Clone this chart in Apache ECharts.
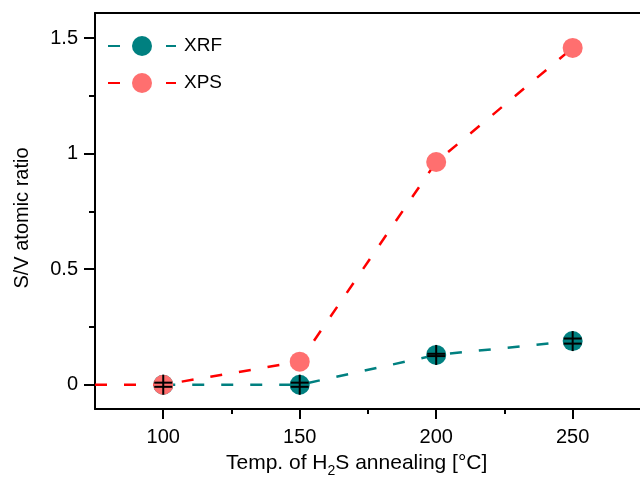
<!DOCTYPE html>
<html><head><meta charset="utf-8">
<script src="https://cdn.jsdelivr.net/npm/echarts@6/dist/echarts.min.js"></script>
<style>html,body{margin:0;padding:0;background:#fff}#c{width:640px;height:477px}</style>
</head><body><div id="c"></div>
<script>
// ---- data ----
const temps = [100, 150, 200, 250];
const xrf = [0, 0, 0.129, 0.189];
const xrfErr = [0.009, 0.009, 0.005, 0.011];
const xpsTemps = [75, 100, 150, 200, 250];
const xps = [0, 0, 0.100, 0.964, 1.458];
const xTickLabels = [100, 150, 200, 250];
const xMinorTicks = [125, 175, 225];
const yTickLabels = [0, 0.5, 1, 1.5];
const yMinorTicks = [0.25, 0.75, 1.25];

const FONT = 'Liberation Sans, Arial, Helvetica, sans-serif';
const TEAL = '#008080';
const SALMON = '#FF6F6F';
const RED = '#FF0000';
const X_MIN = 75, X_MAX = 276.5, Y_MIN = -0.105, Y_MAX = 1.609;

const chart = echarts.init(document.getElementById('c'), null, {renderer: 'canvas'});

const tickStyle = {color: '#000', width: 2};
const baseX = {type: 'value', min: X_MIN, max: X_MAX, gridIndex: 0, splitLine: {show: false}};
const baseY = {type: 'value', min: Y_MIN, max: Y_MAX, gridIndex: 0, splitLine: {show: false}};

const option = {
  animation: false,
  backgroundColor: '#fff',
  grid: {left: 95, top: 13, width: 550, height: 396, containLabel: false, outerBoundsMode: 'none'},
  legend: {
    data: ['XRF', 'XPS'],
    orient: 'vertical',
    left: 102, top: 31,
    itemWidth: 68, itemHeight: 25, itemGap: 17,
    textStyle: {fontSize: 19, color: '#000', fontFamily: FONT, padding: [0, 0, 0, 3]},
    selectedMode: false
  },
  xAxis: [
    Object.assign({}, baseX, {
      position: 'bottom',
      axisLine: {onZero: false, lineStyle: tickStyle},
      axisTick: {customValues: xTickLabels, length: 10, lineStyle: tickStyle},
      axisLabel: {customValues: xTickLabels, fontSize: 20, color: '#000', fontFamily: FONT, margin: 18}
    }),
    Object.assign({}, baseX, {
      position: 'bottom',
      axisLine: {show: false, onZero: false},
      axisTick: {customValues: xMinorTicks, length: 5, lineStyle: tickStyle},
      axisLabel: {show: false}
    }),
    Object.assign({}, baseX, {
      position: 'top',
      axisLine: {show: true, onZero: false, lineStyle: tickStyle},
      axisTick: {show: false},
      axisLabel: {show: false}
    })
  ],
  yAxis: [
    Object.assign({}, baseY, {
      position: 'left',
      axisLine: {show: true, onZero: false, lineStyle: tickStyle},
      axisTick: {customValues: yTickLabels, length: 11, lineStyle: tickStyle},
      axisLabel: {customValues: yTickLabels, fontSize: 20, color: '#000', fontFamily: FONT, margin: 17}
    }),
    Object.assign({}, baseY, {
      position: 'left',
      axisLine: {show: false, onZero: false},
      axisTick: {customValues: yMinorTicks, length: 6, lineStyle: tickStyle},
      axisLabel: {show: false}
    })
  ],
  graphic: [
    {
      type: 'text', left: 226, top: 453,
      style: {
        text: '{a|Temp. of H}{s|2}{a|S annealing [°C]}',
        rich: {
          a: {fontSize: 21, fontFamily: FONT, fill: '#000', lineHeight: 24, verticalAlign: 'top'},
          s: {fontSize: 14, fontFamily: FONT, fill: '#000', lineHeight: 14, verticalAlign: 'top', padding: [11, 0, 0, 0]}
        }
      }
    },
    {
      type: 'text', x: 22, y: 218, rotation: Math.PI / 2,
      style: {text: 'S/V atomic ratio', fontSize: 20, fontFamily: FONT, fill: '#000', align: 'center', verticalAlign: 'middle'}
    }
  ],
  series: [
    {
      name: 'XRF', type: 'line',
      data: temps.map((t, i) => [t, xrf[i]]),
      symbol: 'circle', symbolSize: 20,
      itemStyle: {color: TEAL},
      lineStyle: {color: TEAL, width: 2.5, type: [12, 17]},
      z: 2
    },
    {
      name: 'XPS', type: 'line',
      data: xpsTemps.map((t, i) => i === 0 ? {value: [t, xps[i]], symbol: 'none'} : [t, xps[i]]),
      symbol: 'circle', symbolSize: 20,
      itemStyle: {color: SALMON},
      lineStyle: {color: RED, width: 2.5, type: [12, 17]},
      z: 3
    },
    {
      name: 'err', type: 'custom',
      data: temps.map((t, i) => [t, xrf[i], xrfErr[i]]),
      z: 10,
      renderItem: function (params, api) {
        const x = api.value(0), y = api.value(1), e = api.value(2);
        const c = api.coord([x, y]);
        const top = api.coord([x, y + e]);
        const bot = api.coord([x, y - e]);
        const s = {stroke: '#000', lineWidth: 2};
        return {type: 'group', children: [
          {type: 'line', shape: {x1: c[0], y1: c[1] - 10, x2: c[0], y2: c[1] + 10}, style: s},
          {type: 'line', shape: {x1: c[0] - 9, y1: top[1], x2: c[0] + 9, y2: top[1]}, style: s},
          {type: 'line', shape: {x1: c[0] - 9, y1: bot[1], x2: c[0] + 9, y2: bot[1]}, style: s}
        ]};
      }
    }
  ]
};
chart.setOption(option);
</script>
</body></html>
